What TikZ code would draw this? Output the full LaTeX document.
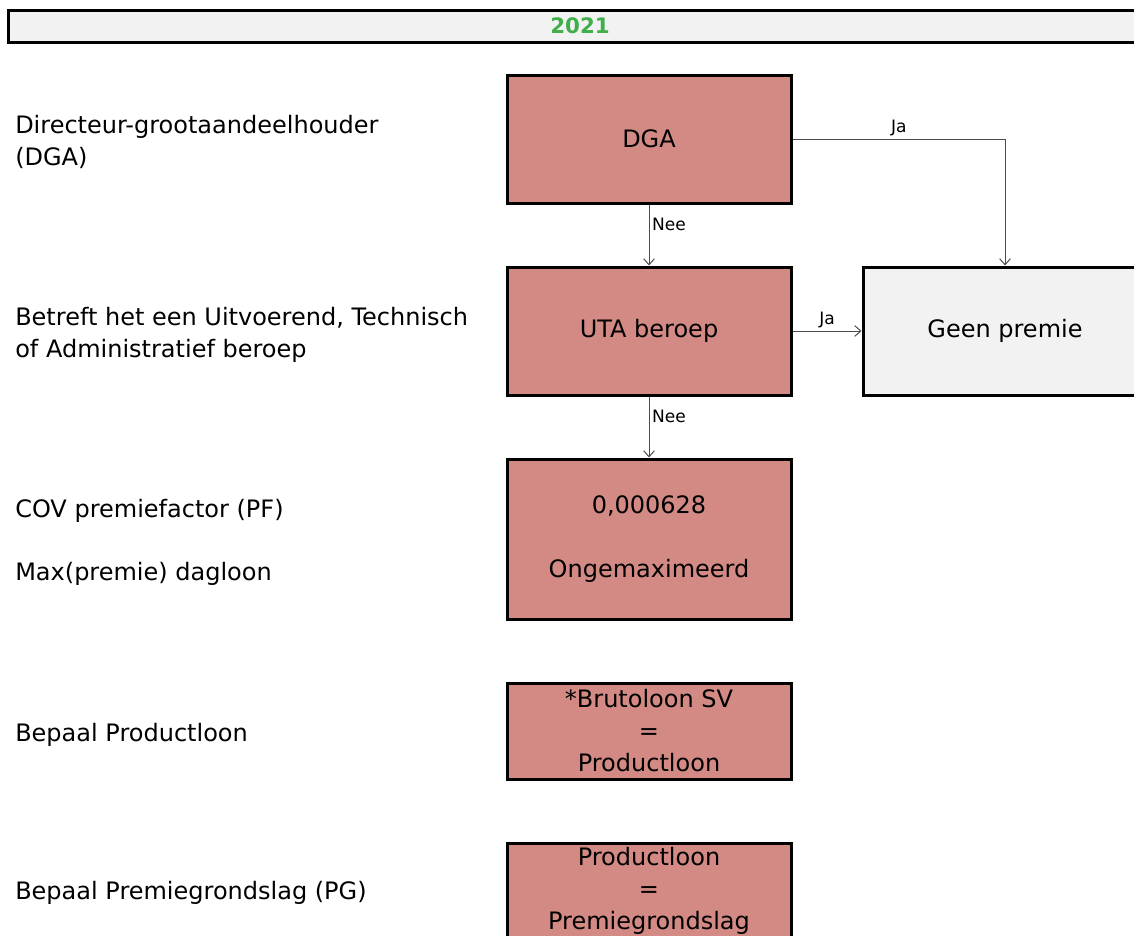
\documentclass[tikz,border=0pt]{standalone}
\usepackage{fontspec}
\setmainfont{DejaVu Sans}
\usetikzlibrary{arrows.meta}
\definecolor{boxrood}{RGB}{212,138,132}
\definecolor{kopgrijs}{RGB}{242,242,242}
\definecolor{jaargroen}{RGB}{64,174,73}

\begin{document}
\begin{tikzpicture}[x=0.75pt,y=0.75pt,yscale=-1,xscale=1,
  stap/.style={draw=black,line width=2.25pt,fill=boxrood,minimum width=213pt,align=center,inner sep=0pt,font=\fontsize{18}{24}\selectfont},
  pijl/.style={draw=black!70,line width=0.75pt,-{Straight Barb[length=4.5pt,width=8pt]}},
  keuze/.style={font=\fontsize{12.8}{15}\selectfont,inner sep=2pt},
  uitleg/.style={anchor=base west,align=left,inner sep=0pt,font=\fontsize{18}{24}\selectfont}]
  \clip (0,0) rectangle (1134,935);
  \useasboundingbox (0,0) rectangle (1134,935);

  %Header
  \draw [line width=2.25pt,fill=kopgrijs] (8,10) rectangle (1152,42) ;
  \node (jaar) at (580,26) [font=\fontsize{16}{18}\selectfont\bfseries,text=jaargroen] {2021};

  %Boxes
  \node (dga) at (649,139) [stap,minimum height=96pt] {DGA};
  \node (uta) at (649,331) [stap,minimum height=96pt] {UTA beroep};
  \node (geen) at (1005,331) [stap,fill=kopgrijs,minimum height=96pt] {Geen premie};
  \node (pf) at (649,539) [stap,minimum height=120pt] {0,000628\\[24pt]Ongemaximeerd};
  \node (bruto) at (649,731) [stap,minimum height=72pt] {*Brutoloon SV\\=\\Productloon};
  \node (pg) at (649,891) [stap,minimum height=72pt] {Productloon\\=\\Premiegrondslag};

  %Connectors
  \draw [pijl] (dga) -- node [keuze,right,pos=0.33] {Nee} (uta) ;
  \draw [pijl] (dga.east) -| node [keuze,above,pos=0.25] {Ja} (geen.north) ;
  \draw [pijl] (uta) -- node [keuze,above] {Ja} (geen) ;
  \draw [pijl] (uta) -- node [keuze,right,pos=0.33] {Nee} (pf) ;

  % Text Node
  \node (tdga) at (15,165) [uitleg] {Directeur-grootaandeelhouder\\(DGA)};
  % Text Node
  \node (tuta) at (15,357) [uitleg] {Betreft het een Uitvoerend, Technisch\\of Administratief beroep};
  % Text Node
  \node (tpf) at (15,517) [uitleg] {COV premiefactor (PF)};
  % Text Node
  \node (tmax) at (15,580) [uitleg] {Max(premie) dagloon};
  % Text Node
  \node (tbruto) at (15,741) [uitleg] {Bepaal Productloon};
  % Text Node
  \node (tpg) at (15,899) [uitleg] {Bepaal Premiegrondslag (PG)};
\end{tikzpicture}
\end{document}
